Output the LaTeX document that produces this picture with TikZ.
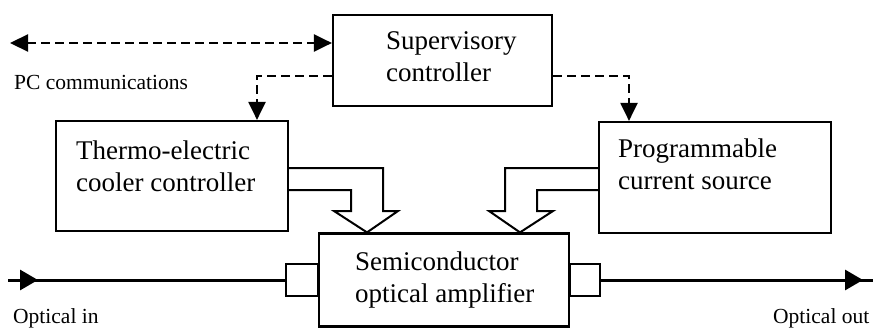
\documentclass[tikz,border=0pt]{standalone}
\usepackage{fontspec}
\setmainfont{Liberation Serif}
\usetikzlibrary{arrows.meta,positioning,decorations.markings}

\begin{document}
\begin{tikzpicture}[x=1pt,y=-1pt,
  >={Triangle[length=18pt,width=17pt]},
  blk/.style={draw,line width=2.2pt,inner sep=0pt},
  txt/.style={inner sep=0pt,anchor=north west,align=left,font=\fontsize{27}{32}\selectfont},
  sml/.style={inner sep=0pt,anchor=north west,font=\fontsize{21.5}{26}\selectfont},
  port/.style={draw,line width=2pt,minimum height=32pt,inner sep=0pt,outer sep=0pt},
  dsh/.style={line width=2.2pt,dash pattern=on 9pt off 5pt},
  fat/.style={line width=2pt,line join=miter},
  opt/.style={line width=3pt,postaction={decorate}}]

\useasboundingbox (0,0) rectangle (873,329);

\node[blk,minimum width=219pt,minimum height=91pt] (sup) at (442.5,60.5) {};
\node[blk,minimum width=232pt,minimum height=110pt] (tec) at (172,176) {};
\node[blk,minimum width=232pt,minimum height=111pt] (pcs) at (715,177.5) {};
\node[blk,minimum width=250pt,minimum height=93pt] (soa) at (444,280) {};
\node[port,minimum width=32pt,left=0pt of soa] (pin) {};
\node[port,minimum width=30pt,right=0pt of soa] (pout) {};

\node[txt] (sup-t) at ([xshift=54pt,yshift=-18pt]sup.north west) {Supervisory\\controller};
\node[txt] (tec-t) at ([xshift=21pt,yshift=-21pt]tec.north west) {Thermo-electric\\cooler controller};
\node[txt] (pcs-t) at ([xshift=20pt,yshift=-18pt]pcs.north west) {Programmable\\current source};
\node[txt] (soa-t) at ([xshift=37pt,yshift=-19pt]soa.north west) {Semiconductor\\optical amplifier};

\coordinate (pc) at (10,43);
\coordinate (in) at (8,280);
\coordinate (out) at (873,280);
\node[sml] (pc-l) at (14,75) {PC communications};
\node[sml] (in-l) at (13,308) {Optical in};
\node[sml] (out-l) at (773,308) {Optical out};

% supervisory links
\draw[dsh,<->] (pc) -- (sup.west |- pc);
\foreach \a/\b/\dx in {west/tec/85pt,east/pcs/-86pt}
  \draw[dsh,->] ([yshift=-15.5pt]sup.\a) -| ([xshift=\dx]\b.north);

% drive arrows into the amplifier
\draw[fat] (tec.east |- 0,168) -| (383,211) -- (398,211) -- (soa.north -| 367,0)
  -- (334,211) -- (351,211) |- (tec.east |- 0,190);
\draw[fat] (pcs.west |- 0,168) -| (505,211) -- (489,211) -- (soa.north -| 520,0)
  -- (553,211) -- (537,211) |- (pcs.west |- 0,190);

% optical path
\draw[opt,decoration={markings,mark=at position 30pt with {\arrow{Triangle[length=18pt,width=20pt]}}}] (in) -- (pin);
\draw[opt,decoration={markings,mark=at position -10pt with {\arrow{Triangle[length=18pt,width=20pt]}}}] (pout) -- (out);
\end{tikzpicture}
\end{document}
